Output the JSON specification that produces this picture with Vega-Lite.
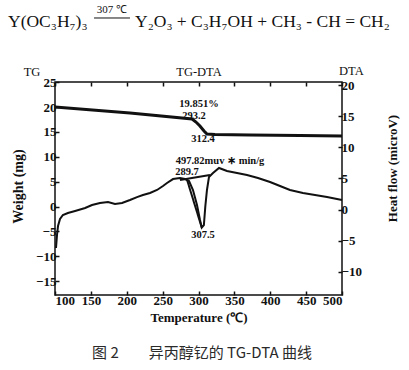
{
  "$schema": "https://vega.github.io/schema/vega-lite/v6.json",
  "width": 287,
  "height": 213,
  "autosize": {"type": "none"},
  "padding": {"left": 55, "top": 82, "right": 67, "bottom": 75},
  "background": "white",
  "config": {
    "view": {"stroke": "#111", "strokeWidth": 1.5},
    "axis": {
      "labelFont": "Liberation Serif", "labelFontSize": 13, "labelFontWeight": "bold", "labelColor": "#111",
      "titleFont": "Liberation Serif", "titleFontSize": 14, "titleFontWeight": "bold", "titleColor": "#111",
      "tickColor": "#111", "tickSize": -4, "tickWidth": 1.5, "domain": false, "grid": false, "labelPadding": 3
    }
  },
  "resolve": {"scale": {"y": "independent"}, "axis": {"x": "independent"}},
  "layer": [
    {
      "encoding": {
        "x": {"field": "T", "type": "quantitative", "scale": {"domain": [100, 500], "nice": false, "zero": false},
              "axis": {"orient": "bottom", "values": [100,150,200,250,300,350,400,450,500], "title": "Temperature (℃)", "titleFontSize": 13, "titlePadding": 4}},
        "y": {"field": "w", "type": "quantitative", "scale": {"domain": [-17.78, 25.05], "nice": false, "zero": false},
              "axis": {"orient": "left", "values": [-15,-10,-5,0,5,10,15,20,25], "title": "Weight (mg)", "titleX": -37, "titleY": 104, "titleBaseline": "middle", "titleAlign": "center"}}
      },
      "layer": [
        {
          "data": {"values": [
            {"T": 100, "w": 20.02}, {"T": 204.5, "w": 18.81}, {"T": 291, "w": 17.61}, {"T": 296.5, "w": 17.0},
            {"T": 302, "w": 16.2}, {"T": 307.7, "w": 15.2}, {"T": 311.8, "w": 14.59}, {"T": 323, "w": 14.5},
            {"T": 371.8, "w": 14.4}, {"T": 441.5, "w": 14.3}, {"T": 500, "w": 14.19}
          ]},
          "mark": {"type": "line", "color": "#111", "strokeWidth": 3}
        },
        {
          "data": {"values": [
            {"T": 300.7, "w": 20.62, "t": "19.851%"},
            {"T": 293.7, "w": 18.21, "t": "293.2"},
            {"T": 306.3, "w": 13.59, "t": "312.4"},
            {"T": 330, "w": 9.16, "t": "497.82muv ∗ min/g"},
            {"T": 284, "w": 6.95, "t": "289.7"},
            {"T": 306.3, "w": -5.72, "t": "307.5"}
          ]},
          "mark": {"type": "text", "font": "Liberation Serif", "fontSize": 10.5, "fontWeight": "bold", "color": "#111"},
          "encoding": {"text": {"field": "t"}}
        },
        {
          "data": {"values": [
            {"T": 67.9, "w": 27.1, "t": "TG"},
            {"T": 300.7, "w": 27.1, "t": "TG-DTA"},
            {"T": 513, "w": 27.3, "t": "DTA"}
          ]},
          "mark": {"type": "text", "font": "Liberation Serif", "fontSize": 12.5, "color": "#111"},
          "encoding": {"text": {"field": "t"}}
        },
        {
          "data": {"values": [
            {"T": 34.5, "w": 37.11, "t": "Y(OC₃H₇)₃"},
            {"T": 211.5, "w": 37.11, "t": "Y₂O₃ + C₃H₇OH + CH₃ - CH = CH₂"}
          ]},
          "mark": {"type": "text", "font": "Liberation Serif", "fontSize": 17.5, "align": "left", "color": "#111"},
          "encoding": {"text": {"field": "t"}}
        },
        {
          "data": {"values": [{"T": 179.4, "w": 39.53, "t": "307 ℃"}]},
          "mark": {"type": "text", "font": "Liberation Serif", "fontSize": 11, "color": "#111"},
          "encoding": {"text": {"field": "t"}}
        },
        {
          "data": {"values": [{"T": 154.4, "T2": 204.5, "w": 37.92}]},
          "mark": {"type": "rule", "color": "#111", "strokeWidth": 1},
          "encoding": {"x2": {"field": "T2"}}
        },
        {
          "data": {"values": [{"T": 304.9, "w": -29.45, "t": "图 2\u3000\u3000异丙醇钇的 TG-DTA 曲线"}]},
          "mark": {"type": "text", "font": "Noto Sans CJK SC", "fontSize": 15, "color": "#2a2a2a"},
          "encoding": {"text": {"field": "t"}}
        }
      ]
    },
    {
      "data": {"values": [
        {"T": 101.4, "h": -6.2, "s": "dta"}, {"T": 102.8, "h": -4.1, "s": "dta"}, {"T": 104.2, "h": -2.66, "s": "dta"},
        {"T": 107, "h": -1.53, "s": "dta"}, {"T": 111, "h": -0.89, "s": "dta"}, {"T": 118, "h": -0.56, "s": "dta"},
        {"T": 128, "h": -0.24, "s": "dta"}, {"T": 142, "h": 0.24, "s": "dta"}, {"T": 151.6, "h": 0.72, "s": "dta"},
        {"T": 162.7, "h": 1.05, "s": "dta"}, {"T": 173.9, "h": 1.2, "s": "dta"}, {"T": 183.6, "h": 0.89, "s": "dta"},
        {"T": 193.4, "h": 1.05, "s": "dta"}, {"T": 204.5, "h": 1.53, "s": "dta"}, {"T": 214.3, "h": 2.0, "s": "dta"},
        {"T": 222.6, "h": 2.33, "s": "dta"}, {"T": 232.4, "h": 2.66, "s": "dta"}, {"T": 242.2, "h": 3.14, "s": "dta"},
        {"T": 250.5, "h": 3.78, "s": "dta"}, {"T": 256.1, "h": 4.26, "s": "dta"}, {"T": 264.5, "h": 4.9, "s": "dta"},
        {"T": 274.2, "h": 5.07, "s": "dta"}, {"T": 281.2, "h": 4.9, "s": "dta"}, {"T": 286.8, "h": 4.59, "s": "dta"},
        {"T": 292.3, "h": 3.14, "s": "dta"}, {"T": 297.9, "h": 0.72, "s": "dta"}, {"T": 302.1, "h": -1.69, "s": "dta"},
        {"T": 304.5, "h": -2.9, "s": "dta"}, {"T": 307.5, "h": -2.5, "s": "dta"}, {"T": 309.5, "h": 0.5, "s": "dta"},
        {"T": 311.8, "h": 3.14, "s": "dta"}, {"T": 314.6, "h": 5.23, "s": "dta"}, {"T": 320.2, "h": 5.87, "s": "dta"},
        {"T": 328.6, "h": 6.68, "s": "dta"}, {"T": 339.7, "h": 6.2, "s": "dta"}, {"T": 353.7, "h": 5.87, "s": "dta"},
        {"T": 367.6, "h": 5.55, "s": "dta"}, {"T": 382.9, "h": 5.07, "s": "dta"}, {"T": 399.7, "h": 4.43, "s": "dta"},
        {"T": 413.6, "h": 3.78, "s": "dta"}, {"T": 427.5, "h": 3.14, "s": "dta"}, {"T": 445.6, "h": 2.66, "s": "dta"},
        {"T": 462.4, "h": 2.33, "s": "dta"}, {"T": 479.1, "h": 2.0, "s": "dta"}, {"T": 493.0, "h": 1.69, "s": "dta"},
        {"T": 500, "h": 1.53, "s": "dta"},
        {"T": 274.2, "h": 4.75, "s": "base"}, {"T": 316, "h": 5.55, "s": "base"},
        {"T": 284, "h": 4.8, "s": "tri"}, {"T": 304.5, "h": -2.9, "s": "tri"}
      ]},
      "mark": {"type": "line", "color": "#111", "strokeWidth": 2},
      "encoding": {
        "x": {"field": "T", "type": "quantitative", "scale": {"domain": [100, 500], "nice": false, "zero": false},
              "axis": {"orient": "top", "values": [100,150,200,250,300,350,400,450,500], "labels": false, "title": null}},
        "y": {"field": "h", "type": "quantitative", "scale": {"domain": [-13.76, 20.52], "nice": false, "zero": false},
              "axis": {"orient": "right", "values": [-10,-5,0,5,10,15,20], "title": "Heat flow (microV)", "titleAngle": 270, "titleFontSize": 13, "titleX": 50, "titleY": 86, "titleBaseline": "middle", "titleAlign": "center"}},
        "detail": {"field": "s"},
        "order": {"field": "T"}
      }
    }
  ]
}
